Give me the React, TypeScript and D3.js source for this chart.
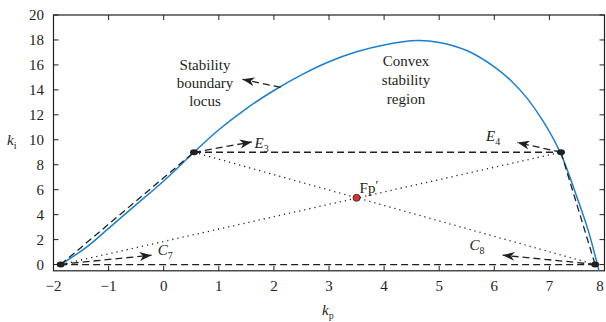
import React from "react";
import * as d3 from "d3";

const W = 606;
const H = 322;
const M = { left: 53.5, right: 604.5, top: 15, bottom: 270.8 };

const X_TICKS = [-2, -1, 0, 1, 2, 3, 4, 5, 6, 7, 8];
const Y_TICKS = [0, 2, 4, 6, 8, 10, 12, 14, 16, 18, 20];

// stability boundary locus (kp, ki)
const LOCUS_KP = [-1.87, -1.4, -1.0, -0.5, 0.0, 0.55, 1.0, 1.5, 2.0, 2.5, 3.0, 3.5, 4.0, 4.6, 5.0, 5.5, 6.0, 6.3, 6.6, 6.9, 7.2, 7.5, 7.7, 7.9];
const LOCUS_KI = [0.0, 1.4, 2.9, 4.8, 6.7, 9.0, 10.8, 12.5, 13.95, 15.2, 16.25, 17.05, 17.6, 17.95, 17.8, 17.15, 15.85, 14.75, 13.3, 11.4, 8.95, 5.4, 2.8, -0.5];

// vertices of the polygon
const VERT_KP = [-1.87, 0.55, 7.21, 7.83];
const VERT_KI = [0.0, 9.0, 9.0, 0.0];

const CENTER = { kp: 3.5, ki: 5.35 };

// arrows: from -> to
const ARROWS = [
  { from: [0.55, 9.0], to: [1.6, 9.83] },
  { from: [7.21, 9.0], to: [6.42, 9.78] },
  { from: [-1.87, 0.02], to: [-0.22, 0.75] },
  { from: [7.83, 0.02], to: [6.15, 0.75] },
  { from: [2.12, 14.2], to: [1.43, 14.85] },
];

const SUB_LABELS = [
  { main: "E", sub: "3", kp: 1.65, ki: 9.35 },
  { main: "E", sub: "4", kp: 5.85, ki: 9.9 },
  { main: "C", sub: "7", kp: -0.11, ki: 0.75 },
  { main: "C", sub: "8", kp: 5.55, ki: 1.15 },
];

const INK = "#231f20";
const BLUE = "#1b7fd0";
const FONT = "'Liberation Serif', 'DejaVu Serif', serif";

export default function App() {
  const x = d3.scaleLinear().domain([-2, 8]).range([M.left, M.right]);
  const y = d3.scaleLinear().domain([-0.5, 20]).range([M.bottom, M.top]);

  const locus = LOCUS_KP.map((kp, i) => [kp, LOCUS_KI[i]] as [number, number]);
  const line = d3
    .line<[number, number]>()
    .x((d) => x(d[0]))
    .y((d) => y(d[1]))
    .curve(d3.curveCatmullRom);

  const verts = VERT_KP.map((kp, i) => [kp, VERT_KI[i]] as [number, number]);
  const edges = [
    [verts[0], verts[1]],
    [verts[1], verts[2]],
    [verts[2], verts[3]],
    [verts[3], verts[0]],
  ];
  const diags = [
    [verts[0], verts[2]],
    [verts[1], verts[3]],
  ];

  return (
    <svg
      width={W}
      height={H}
      style={{ position: "absolute", left: 0, top: 0, background: "#fff" }}
      fontFamily={FONT}
    >
      <defs>
        <marker
          id="arr"
          viewBox="-12 -5 13 10"
          refX={0}
          refY={0}
          markerWidth={13}
          markerHeight={10}
          markerUnits="userSpaceOnUse"
          orient="auto"
        >
          <path d="M0,0 L-12,-4.5 L-8.5,0 L-12,4.5 Z" fill={INK} />
        </marker>
      </defs>

      {/* frame */}
      <rect
        x={M.left}
        y={M.top}
        width={M.right - M.left}
        height={M.bottom - M.top}
        fill="none"
        stroke={INK}
        strokeWidth={1.2}
      />

      {/* ticks */}
      {X_TICKS.map((t) => (
        <g key={"x" + t}>
          <line x1={x(t)} x2={x(t)} y1={M.bottom} y2={M.bottom - 5} stroke={INK} strokeWidth={1} />
          <line x1={x(t)} x2={x(t)} y1={M.top} y2={M.top + 5} stroke={INK} strokeWidth={1} />
          <text x={Math.min(x(t), 600)} y={291} textAnchor="middle" fontSize={15} fill={INK}>
            {t < 0 ? "\u2212" + Math.abs(t) : t}
          </text>
        </g>
      ))}
      {Y_TICKS.map((t) => (
        <g key={"y" + t}>
          <line x1={M.left} x2={M.left + 5} y1={y(t)} y2={y(t)} stroke={INK} strokeWidth={1} />
          <line x1={M.right} x2={M.right - 5} y1={y(t)} y2={y(t)} stroke={INK} strokeWidth={1} />
          <text x={44} y={y(t) + 5} textAnchor="end" fontSize={15} fill={INK}>
            {t}
          </text>
        </g>
      ))}

      {/* axis titles */}
      <text x={322} y={315} fontSize={15} fill={INK}>
        <tspan fontStyle="italic">k</tspan>
        <tspan fontSize={10} dy={4}>p</tspan>
      </text>
      <text x={7} y={145} fontSize={15} fill={INK}>
        <tspan fontStyle="italic">k</tspan>
        <tspan fontSize={10} dy={4}>i</tspan>
      </text>

      {/* locus */}
      <path d={line(locus) || ""} fill="none" stroke={BLUE} strokeWidth={1.5} />

      {/* dotted diagonals */}
      {diags.map((d, i) => (
        <line
          key={"d" + i}
          x1={x(d[0][0])}
          y1={y(d[0][1])}
          x2={x(d[1][0])}
          y2={y(d[1][1])}
          stroke={INK}
          strokeWidth={1.3}
          strokeDasharray="1.2 4"
        />
      ))}

      {/* dashed edges */}
      {edges.map((d, i) => (
        <line
          key={"e" + i}
          x1={x(d[0][0])}
          y1={y(d[0][1])}
          x2={x(d[1][0])}
          y2={y(d[1][1])}
          stroke={INK}
          strokeWidth={1.3}
          strokeDasharray="7 4"
        />
      ))}

      {/* arrows */}
      {ARROWS.map((a, i) => (
        <line
          key={"a" + i}
          x1={x(a.from[0])}
          y1={y(a.from[1])}
          x2={x(a.to[0])}
          y2={y(a.to[1])}
          stroke={INK}
          strokeWidth={1.3}
          strokeDasharray="7 4"
          markerEnd="url(#arr)"
        />
      ))}

      {/* vertices */}
      {verts.map((v, i) => (
        <ellipse key={"v" + i} cx={x(v[0])} cy={y(v[1])} rx={4} ry={3} fill={INK} />
      ))}

      {/* center point */}
      <circle cx={x(CENTER.kp)} cy={y(CENTER.ki)} r={3.5} fill="#e2302a" stroke={INK} strokeWidth={0.8} />
      <text x={x(CENTER.kp) + 3} y={y(CENTER.ki) - 5} fontSize={15} fill={INK}>
        Fp
        <tspan fontSize={13} dy={-4}>{"\u2032"}</tspan>
      </text>

      {/* sub labels */}
      {SUB_LABELS.map((l, i) => (
        <text key={"l" + i} x={x(l.kp)} y={y(l.ki)} fontSize={15} fill={INK}>
          <tspan fontStyle="italic">{l.main}</tspan>
          <tspan fontSize={10} dy={4}>{l.sub}</tspan>
        </text>
      ))}

      {/* annotations */}
      <text x={205} textAnchor="middle" fontSize={15} fill={INK}>
        <tspan x={205} y={70}>Stability</tspan>
        <tspan x={205} y={88}>boundary</tspan>
        <tspan x={205} y={106}>locus</tspan>
      </text>
      <text textAnchor="middle" fontSize={15} fill={INK}>
        <tspan x={406} y={66}>Convex</tspan>
        <tspan x={406} y={85}>stability</tspan>
        <tspan x={406} y={104}>region</tspan>
      </text>
    </svg>
  );
}
